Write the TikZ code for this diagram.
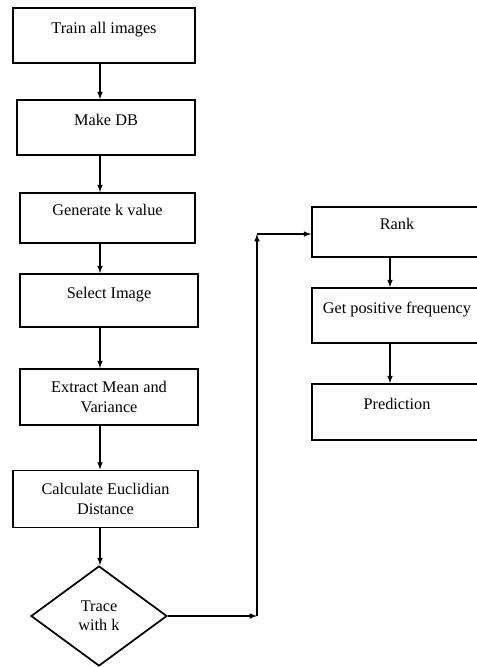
\documentclass[tikz,border=0pt]{standalone}
\usepackage{fontspec}
\setmainfont{Liberation Serif}
\usetikzlibrary{arrows,shapes.geometric}

\begin{document}
\begin{tikzpicture}[x=0.75pt,y=-0.75pt,
    procbox/.style={draw,line width=1.3pt,rectangle,inner sep=2pt,align=center,
      font=\fontsize{12.2}{14.5}\selectfont},
    onebox/.style={procbox,text height=8.5pt,text depth=12pt},
    decision/.style={draw,line width=1.3pt,diamond,inner sep=0pt,align=center,
      minimum width=102pt,minimum height=75pt,font=\fontsize{12.2}{14.5}\selectfont},
    arr/.style={-latex,line width=0.9pt}]
  \useasboundingbox (0,0) rectangle (477,667);
  \clip (0,0) rectangle (477,667);
  \node[onebox,minimum width=136.5pt,minimum height=41.25pt] (train) at (104,35.5) {Train all images};
  \node[onebox,minimum width=133.5pt,minimum height=41.25pt] (db) at (106,127.5) {Make DB};
  \node[onebox,minimum width=131.25pt,minimum height=37.5pt] (kval) at (107.5,218) {Generate k value};
  \node[onebox,minimum width=133.5pt,minimum height=39.75pt] (select) at (109,300.5) {Select Image};
  \node[procbox,minimum width=133.5pt,minimum height=42pt] (extract) at (109,397) {Extract Mean and\\Variance};
  \node[procbox,minimum width=138.75pt,minimum height=42.75pt] (euclid) at (105.5,499) {Calculate Euclidian\\Distance};
  \node[decision] (trace) at (99,616) {Trace\\with k};
  \node[onebox,minimum width=127.5pt,minimum height=37.5pt] (rank) at (397,232) {Rank};
  \node[onebox,minimum width=127.5pt,minimum height=41.25pt] (freq) at (397,315.5) {Get positive frequency};
  \node[onebox,minimum width=127.5pt,minimum height=42pt] (pred) at (397,412) {Prediction};
  \coordinate (laxis) at (100,0);
  \coordinate (raxis) at (390,0);
  \coordinate (turn) at (257,616);
  \coordinate (bend) at (257,234);
  \foreach \a/\b in {train/db,db/kval,kval/select,select/extract,extract/euclid,euclid/trace}{
    \draw[arr] (\a.south -| laxis) -- (\b.north -| laxis);
  }
  \foreach \a/\b in {rank/freq,freq/pred}{
    \draw[arr] (\a.south -| raxis) -- (\b.north -| raxis);
  }
  \draw[arr] (trace.east) -- (turn);
  \draw[arr] (turn) -- (bend);
  \draw[arr] (bend) -- (rank.west |- bend);
\end{tikzpicture}
\end{document}
